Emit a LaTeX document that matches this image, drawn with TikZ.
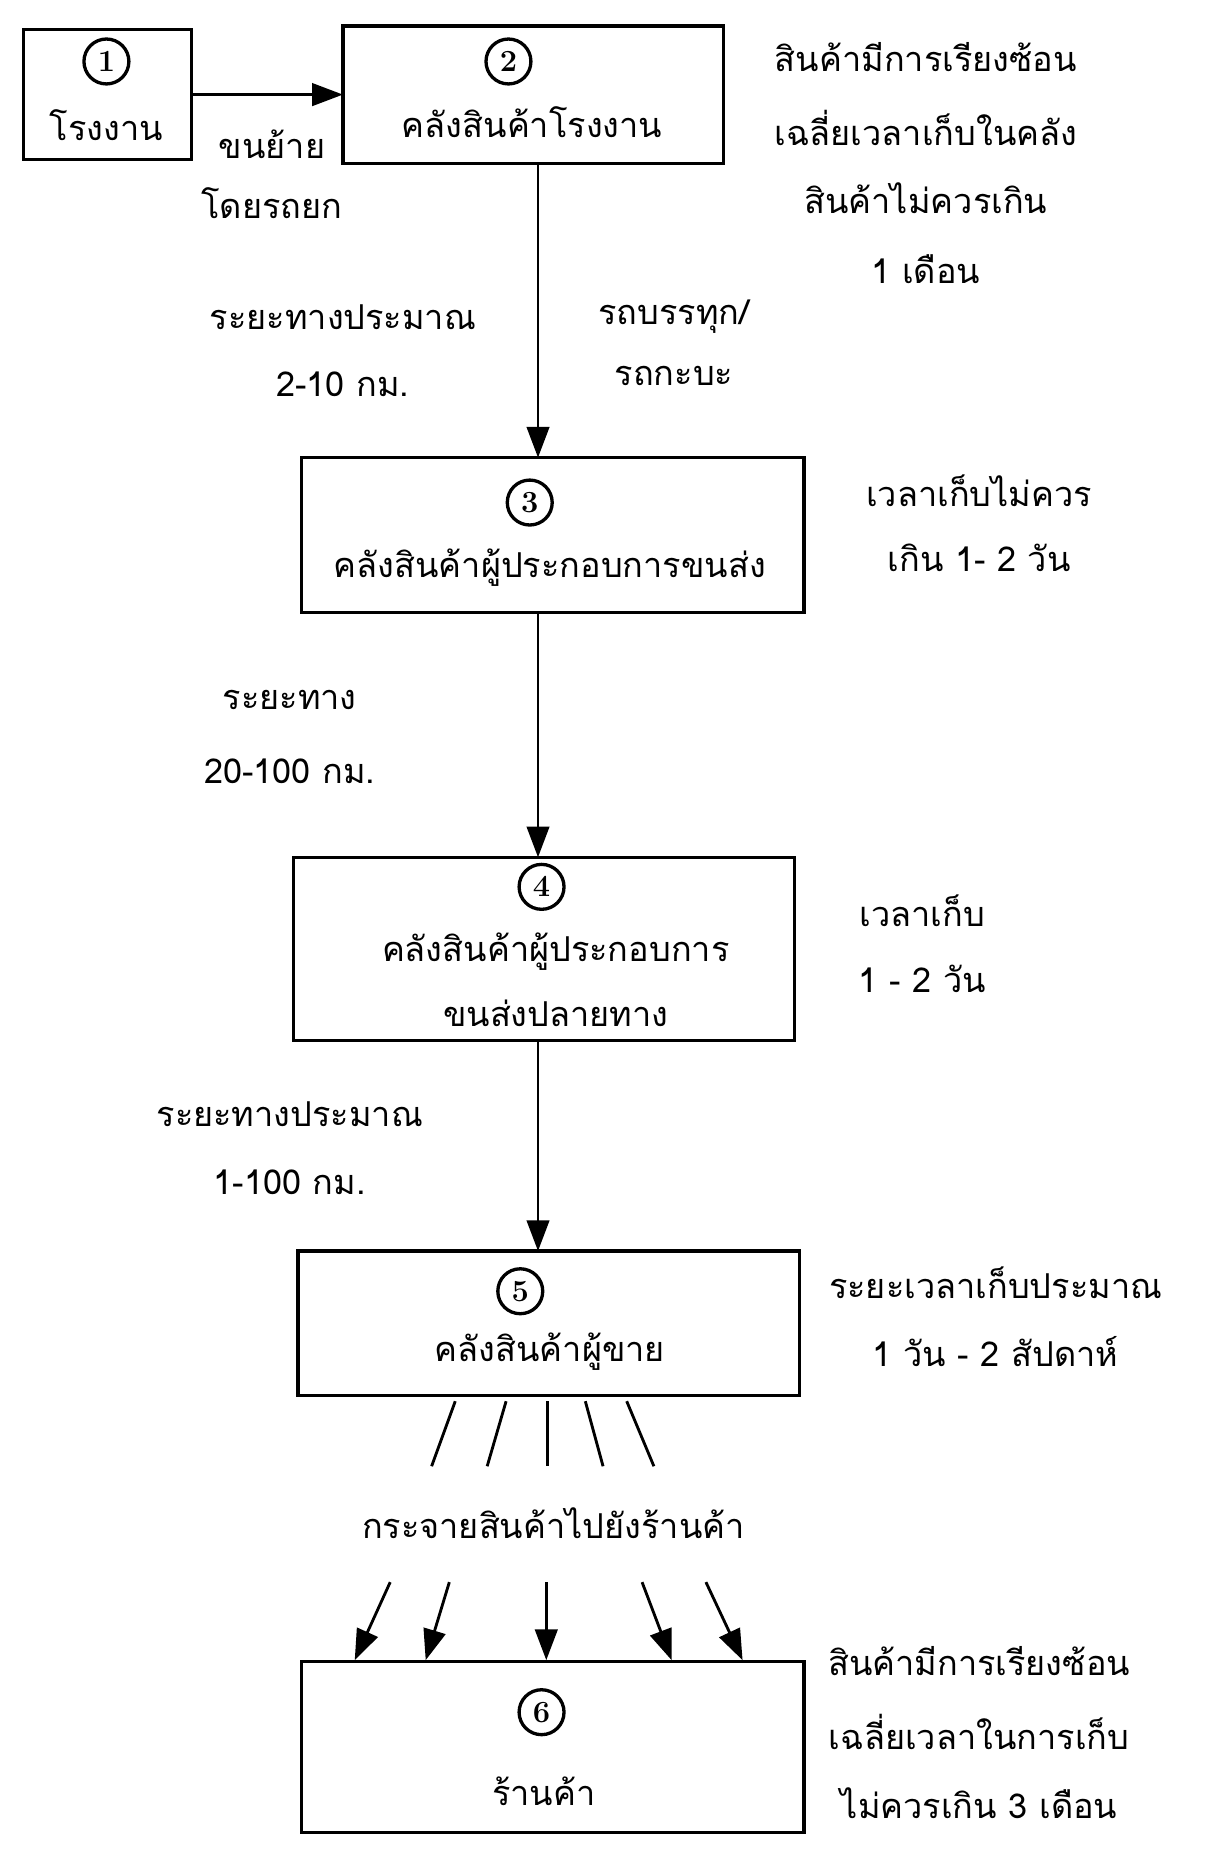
\documentclass[tikz,border=0pt]{standalone}
\usepackage{fontspec}
\newfontfamily\thaifont[Script=Thai]{Loma}
\usetikzlibrary{arrows.meta}
\begin{document}
\begin{tikzpicture}[x=1pt,y=-1pt,
  font=\thaifont\fontsize{29}{32}\selectfont,
  box/.style={draw,line width=2.8pt},
  num/.style={draw,circle,line width=2.8pt,minimum size=38pt,inner sep=0pt,font=\rmfamily\bfseries\fontsize{26}{28}\selectfont},
  lab/.style={inner sep=0pt,anchor=center},
  arr/.style={line width=2.4pt,-{Triangle[length=26pt,width=19pt]}},
  ln/.style={line width=2.4pt}]
\useasboundingbox (0,0) rectangle (1020,1573);
% boxes
\draw[box] (20,25) rectangle (162,135); \coordinate (b1e) at (162,80);
\node[num] (c1) at (90,52) {1}; \node[lab] (t1) at (90,106) {โรงงาน};
\draw[box] (290,22) rectangle (612,138);
\coordinate (b2w) at (290,80); \coordinate (b2s) at (455,138);
\node[num] (c2) at (430,52) {2}; \node[lab] (t2) at (450,103) {คลังสินค้าโรงงาน};
\draw[box] (255,387) rectangle (680,518);
\coordinate (b3n) at (455,387); \coordinate (b3s) at (455,518);
\node[num] (c3) at (448,425) {3}; \node[lab] (t3) at (465,480) {คลังสินค้าผู้ประกอบการขนส่ง};
\draw[box] (248,725) rectangle (672,880);
\coordinate (b4n) at (455,725); \coordinate (b4s) at (455,880);
\node[num] (c4) at (458,750) {4}; \node[lab] (t4a) at (470,805) {คลังสินค้าผู้ประกอบการ};
\node[lab] (t4b) at (470,857) {ขนส่งปลายทาง};
\draw[box] (252,1058) rectangle (676,1180);
\coordinate (b5n) at (455,1058);
\node[num] (c5) at (440,1092) {5}; \node[lab] (t5) at (465,1143) {คลังสินค้าผู้ขาย};
\draw[box] (255,1405) rectangle (680,1550);
\node[num] (c6) at (458,1448) {6}; \node[lab] (t6) at (460,1515) {ร้านค้า};
% arrows
\draw[arr] (b1e) -- (b2w);
\draw[arr] (b2s) -- (b3n);
\draw[arr] (b3s) -- (b4n);
\draw[arr] (b4s) -- (b5n);
% distribution
\foreach \a/\b/\c/\d in {385/1185/365/1240,428/1185/412/1240,463/1185/463/1240,495/1185/510/1240,530/1185/553/1240}
  \draw[ln] (\a,\b) -- (\c,\d);
\node[lab] (dist) at (468,1288) {กระจายสินค้าไปยังร้านค้า};
\foreach \a/\b/\c/\d in {330/1338/300/1404,380/1338/360/1404,462/1338/462/1404,543/1338/568/1404,597/1338/628/1404}
  \draw[arr] (\a,\b) -- (\c,\d);
% labels
\node[lab] (l1a) at (230,122) {ขนย้าย};
\node[lab] (l1b) at (230,172) {โดยรถยก};
\node[lab] (r2a) at (783,48) {สินค้ามีการเรียงซ้อน};
\node[lab] (r2b) at (783,108) {เฉลี่ยเวลาเก็บในคลัง};
\node[lab] (r2c) at (783,168) {สินค้าไม่ควรเกิน};
\node[lab] (r2d) at (783,228) {1 เดือน};
\node[lab] (l2a) at (290,268) {ระยะทางประมาณ};
\node[lab] (l2b) at (290,325) {2-10 กม.};
\node[lab] (l2c) at (570,268) {รถบรรทุก/};
\node[lab] (l2d) at (570,318) {รถกะบะ};
\node[lab] (r3a) at (828,415) {เวลาเก็บไม่ควร};
\node[lab] (r3b) at (828,472) {เกิน 1- 2 วัน};
\node[lab] (l3a) at (245,592) {ระยะทาง};
\node[lab] (l3b) at (245,652) {20-100 กม.};
\node[lab] (r4a) at (780,770) {เวลาเก็บ};
\node[lab] (r4b) at (780,828) {1 - 2 วัน};
\node[lab] (l4a) at (245,942) {ระยะทางประมาณ};
\node[lab] (l4b) at (245,1000) {1-100 กม.};
\node[lab] (r5a) at (842,1085) {ระยะเวลาเก็บประมาณ};
\node[lab] (r5b) at (842,1143) {1 วัน - 2 สัปดาห์};
\node[lab] (r6a) at (828,1405) {สินค้ามีการเรียงซ้อน};
\node[lab] (r6b) at (828,1465) {เฉลี่ยเวลาในการเก็บ};
\node[lab] (r6c) at (828,1525) {ไม่ควรเกิน 3 เดือน};
\end{tikzpicture}
\end{document}
